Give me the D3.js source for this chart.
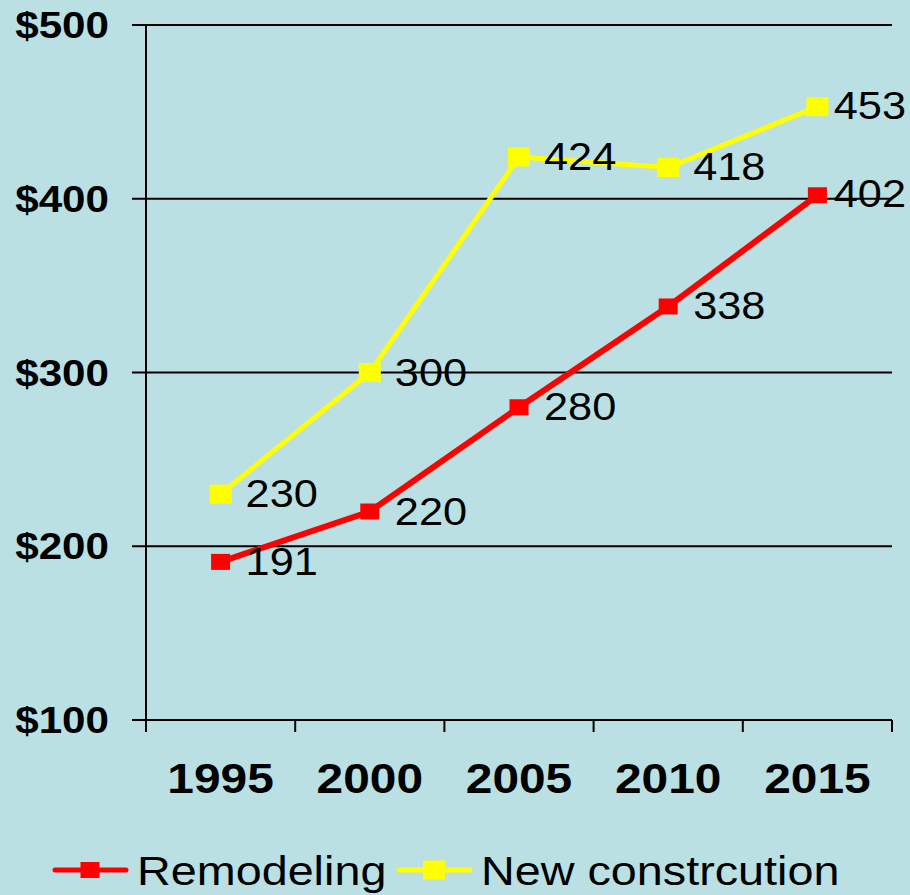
<!DOCTYPE html>
<html>
<head>
<meta charset="utf-8">
<script src="https://cdn.jsdelivr.net/npm/d3@7"></script>
<style>
  body { margin: 0; background: #BAE0E4; }
  svg { display: block; }
  text { font-family: "Liberation Sans", Arial, sans-serif; fill: #000; }
</style>
</head>
<body>
<div id="chart"></div>
<script>
// data
var years = ["1995", "2000", "2005", "2010", "2015"];
var remodeling = [191, 220, 280, 338, 402];
var newConstruction = [230, 300, 424, 418, 453];
var yTicks = [100, 200, 300, 400, 500];

var w = 910, h = 895;
var stretch = 1.14; // the original text is a bit wide

var svg = d3.select("#chart").append("svg")
    .attr("width", w)
    .attr("height", h);

svg.append("rect").attr("width", w).attr("height", h).attr("fill", "#BAE0E4");

var x = d3.scaleBand().domain(years).range([146, 892]);
var y = d3.scaleLinear().domain([100, 500]).range([720, 25]);

function cx(d) { return x(d) + x.bandwidth() / 2; }

function label(g, px, py, str, size, weight, anchor) {
    return g.append("text")
        .attr("transform", "translate(" + px + "," + py + ") scale(" + stretch + ",1)")
        .attr("text-anchor", anchor || "start")
        .style("font-size", size + "px")
        .style("font-weight", weight || "normal")
        .text(str);
}

// gridlines
svg.selectAll("line.grid")
    .data(yTicks.filter(function (d) { return d > 100; }))
    .enter().append("line")
    .attr("class", "grid")
    .attr("x1", 132).attr("x2", 892)
    .attr("y1", function (d) { return y(d); })
    .attr("y2", function (d) { return y(d); })
    .attr("stroke", "#000").attr("stroke-width", 2);

// axes
svg.append("line").attr("x1", 146).attr("x2", 146).attr("y1", y(500)).attr("y2", 732)
    .attr("stroke", "#000").attr("stroke-width", 2);
svg.append("line").attr("x1", 132).attr("x2", 892).attr("y1", y(100)).attr("y2", y(100))
    .attr("stroke", "#000").attr("stroke-width", 2);

// x ticks at band edges
var edges = years.map(function (d) { return x(d); }).concat([x.range()[1]]);
svg.selectAll("line.xtick")
    .data(edges)
    .enter().append("line")
    .attr("class", "xtick")
    .attr("x1", function (d) { return d; }).attr("x2", function (d) { return d; })
    .attr("y1", y(100)).attr("y2", 732)
    .attr("stroke", "#000").attr("stroke-width", 2);

yTicks.forEach(function (t) {
    label(svg, 109, y(t) + 13, "$" + t, 37, "bold", "end");
});
years.forEach(function (yr) {
    label(svg, cx(yr), 793, yr, 42, "bold", "middle");
});

// series
var series = [
    { name: "Remodeling", values: remodeling, color: "#FF0000", mw: 19, mh: 16, lw: 6 },
    { name: "New constrcution", values: newConstruction, color: "#FFFF00", mw: 22, mh: 19, lw: 5 }
];

var line = d3.line()
    .x(function (d, i) { return cx(years[i]); })
    .y(function (d) { return y(d); });

series.slice().reverse().forEach(function (s) {
    svg.append("path")
        .attr("d", line(s.values))
        .attr("fill", "none")
        .attr("stroke", s.color)
        .attr("stroke-width", s.lw);
    svg.selectAll(null)
        .data(s.values)
        .enter().append("rect")
        .attr("x", function (d, i) { return cx(years[i]) - s.mw / 2; })
        .attr("y", function (d) { return y(d) - s.mh / 2; })
        .attr("width", s.mw).attr("height", s.mh)
        .attr("fill", s.color);
});

// value labels, pushed left when they would run off the right edge
series.forEach(function (s) {
    s.values.forEach(function (v, i) {
        var px = cx(years[i]) + 25;
        var t = label(svg, px, y(v) + 13, v, 38);
        var b = t.node().getBBox();
        var right = px + b.width * stretch;
        if (right > 906) {
            t.attr("transform", "translate(" + (px - (right - 906)) + "," + (y(v) + 12) + ") scale(" + stretch + ",1)");
        }
    });
});

// legend
var legendItems = [
    { x0: 55, s: series[0] },
    { x0: 399, s: series[1] }
];
legendItems.forEach(function (it) {
    var g = svg.append("g");
    g.append("line")
        .attr("x1", it.x0).attr("x2", it.x0 + 71)
        .attr("y1", 870).attr("y2", 870)
        .attr("stroke", it.s.color).attr("stroke-width", 5)
        .attr("stroke-linecap", "round");
    g.append("rect")
        .attr("x", it.x0 + 35 - it.s.mw / 2).attr("y", 870 - it.s.mh / 2)
        .attr("width", it.s.mw).attr("height", it.s.mh)
        .attr("fill", it.s.color);
    label(g, it.x0 + 82, 885, it.s.name, 41);
});
</script>
</body>
</html>
